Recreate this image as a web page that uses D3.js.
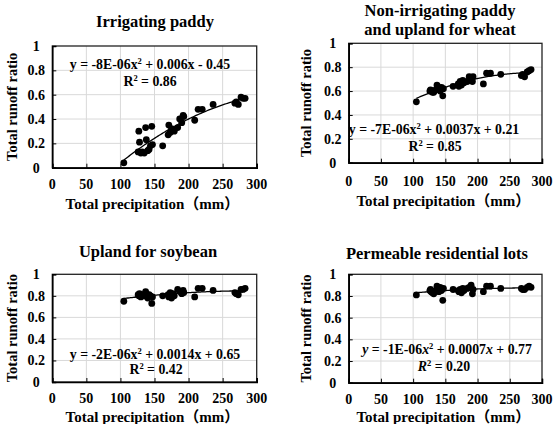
<!DOCTYPE html>
<html>
<head>
<meta charset="utf-8">
<script src="https://cdn.jsdelivr.net/npm/d3@7"></script>
<style>
  body { margin: 0; background: #fff; }
  svg text { font-family: "Liberation Serif", "Times New Roman", "Noto Sans CJK JP", serif; font-weight: bold; fill: #000; }
</style>
</head>
<body>
<svg id="chart" width="555" height="424"></svg>
<script>
// rainfall events (mm), shared by all four land uses
const precip = [105, 126, 127, 128, 130, 132, 135, 137, 138, 140, 142, 144, 146, 147, 162,
  170, 171, 173, 175, 177, 179, 184, 187, 190, 192, 193, 209, 214, 220, 236,
  268, 270, 273, 277, 280, 283];

const irrigPaddy = [0.04, 0.13, 0.30, 0.21, 0.12, 0.13, 0.12, 0.33, 0.23, 0.14, 0.15, 0.18, 0.34, 0.19, 0.18,
  0.27, 0.35, 0.29, 0.32, 0.31, 0.30, 0.33, 0.40, 0.37, 0.43, 0.42, 0.39, 0.48, 0.48, 0.52,
  0.53, 0.54, 0.52, 0.58, 0.57, 0.57];

const wheatUpland = [0.51, 0.60, 0.61, 0.60, 0.59, 0.59, 0.61, 0.65, 0.64, 0.62, 0.60, 0.63, 0.56, 0.62, 0.64,
  0.66, 0.64, 0.68, 0.65, 0.69, 0.67, 0.68, 0.72, 0.71, 0.68, 0.72, 0.66, 0.75, 0.75, 0.74,
  0.73, 0.74, 0.72, 0.76, 0.77, 0.78];

const soyUpland = [0.75, 0.81, 0.80, 0.82, 0.79, 0.81, 0.80, 0.84, 0.82, 0.78, 0.81, 0.80, 0.73, 0.79, 0.80,
  0.81, 0.79, 0.83, 0.78, 0.82, 0.80, 0.86, 0.84, 0.82, 0.85, 0.83, 0.79, 0.87, 0.87, 0.85,
  0.83, 0.82, 0.81, 0.86, 0.86, 0.87];

const residential = [0.81, 0.85, 0.86, 0.84, 0.83, 0.82, 0.85, 0.89, 0.87, 0.84, 0.88, 0.85, 0.76, 0.87, 0.86,
  0.85, 0.84, 0.86, 0.83, 0.87, 0.85, 0.87, 0.88, 0.90, 0.82, 0.86, 0.84, 0.89, 0.89, 0.87,
  0.87, 0.86, 0.86, 0.88, 0.89, 0.88];

const xTicks = [0, 50, 100, 150, 200, 250, 300];
const yTicks = [0, 0.2, 0.4, 0.6, 0.8, 1];

const panels = [
  {title: ["Irrigating paddy"], values: irrigPaddy,
   eq: ["y = -8E-06x", " + 0.006x - 0.45"], r2: "0.86", italic: false,
   x0: 52.3, x1: 256.7, y0: 167.7, y1: 46, titleY: [21], titleX: 155,
   eqY: 64, eqX: 150, r2Y: 81, r2X: 150, tickY: 184, labY: 204, ylabX: 12},
  {title: ["Non-irrigating paddy", "and upland for wheat"], values: wheatUpland,
   eq: ["y = -7E-06x", " + 0.0037x + 0.21"], r2: "0.85", italic: false,
   x0: 348.7, x1: 542, y0: 162.7, y1: 43.3, titleY: [10, 29], titleX: 440,
   eqY: 129, eqX: 434, r2Y: 146, r2X: 435, tickY: 181, labY: 201, ylabX: 306},
  {title: ["Upland for soybean"], values: soyUpland,
   eq: ["y = -2E-06x", " + 0.0014x + 0.65"], r2: "0.42", italic: false,
   x0: 52.3, x1: 256.7, y0: 382, y1: 274.3, titleY: [251], titleX: 148,
   eqY: 354, eqX: 155, r2Y: 369, r2X: 156, tickY: 398, labY: 417, ylabX: 12},
  {title: ["Permeable residential lots"], values: residential,
   eq: ["y = -1E-06x", " + 0.0007x + 0.77"], r2: "0.20", italic: true,
   x0: 348.7, x1: 542, y0: 382.7, y1: 274.3, titleY: [253], titleX: 437,
   eqY: 349, eqX: 447, r2Y: 366, r2X: 444, tickY: 399, labY: 417, ylabX: 306}
];

// quadratic least-squares fit of the points
function quadFit(xs, ys) {
  const n = xs.length;
  let s = [0, 0, 0, 0, 0], t = [0, 0, 0];
  for (let i = 0; i < n; i++) {
    const x = xs[i], y = ys[i];
    for (let k = 0; k < 5; k++) s[k] += Math.pow(x, k);
    for (let k = 0; k < 3; k++) t[k] += y * Math.pow(x, k);
  }
  const A = [[s[0], s[1], s[2], t[0]], [s[1], s[2], s[3], t[1]], [s[2], s[3], s[4], t[2]]];
  for (let c = 0; c < 3; c++) {
    for (let r = c + 1; r < 3; r++) {
      const f = A[r][c] / A[c][c];
      for (let k = c; k < 4; k++) A[r][k] -= f * A[c][k];
    }
  }
  const b = [0, 0, 0];
  for (let r = 2; r >= 0; r--) {
    let v = A[r][3];
    for (let k = r + 1; k < 3; k++) v -= A[r][k] * b[k];
    b[r] = v / A[r][r];
  }
  return x => b[0] + b[1] * x + b[2] * x * x;
}

const svg = d3.select("#chart");

panels.forEach(p => {
  const x = d3.scaleLinear().domain([0, 300]).range([p.x0, p.x1]);
  const y = d3.scaleLinear().domain([0, 1]).range([p.y0, p.y1]);
  const g = svg.append("g");

  // gridlines
  g.selectAll(".vg").data(xTicks.slice(1, -1)).join("line")
    .attr("x1", d => x(d)).attr("x2", d => x(d))
    .attr("y1", p.y0).attr("y2", p.y1)
    .attr("stroke", "#d9d9d9").attr("stroke-width", 1);
  g.selectAll(".hg").data(yTicks.slice(1, -1)).join("line")
    .attr("y1", d => y(d)).attr("y2", d => y(d))
    .attr("x1", p.x0).attr("x2", p.x1)
    .attr("stroke", "#d9d9d9").attr("stroke-width", 1);

  // plot frame
  g.append("rect")
    .attr("x", p.x0).attr("y", p.y1)
    .attr("width", p.x1 - p.x0).attr("height", p.y0 - p.y1)
    .attr("fill", "none").attr("stroke", "#222").attr("stroke-width", 1.3);

  // axes
  const xAxis = g.append("g").attr("transform", `translate(0,${p.y0})`)
    .call(d3.axisBottom(x).tickValues(xTicks).tickSize(-4).tickFormat(""));
  const yAxis = g.append("g").attr("transform", `translate(${p.x0},0)`)
    .call(d3.axisLeft(y).tickValues(yTicks).tickSize(-4).tickFormat(""));
  [xAxis, yAxis].forEach(a => {
    a.select(".domain").attr("stroke", "#000").attr("stroke-width", 1.6);
    a.selectAll(".tick line").attr("stroke", "#000").attr("stroke-width", 1);
  });

  // tick labels
  g.selectAll(".xl").data(xTicks).join("text")
    .attr("x", d => x(d)).attr("y", p.tickY + 5)
    .attr("text-anchor", "middle").attr("font-size", 14)
    .text(d => d);
  g.selectAll(".yl").data(yTicks).join("text")
    .attr("x", p.x0 - 16).attr("y", d => y(d) + 5)
    .attr("text-anchor", "middle").attr("font-size", 14)
    .text(d => d);

  // axis titles
  g.append("text")
    .attr("x", (p.x0 + p.x1) / 2 - 2).attr("y", p.labY + 5)
    .attr("text-anchor", "middle").attr("font-size", 15)
    .text("Total precipitation（mm）");
  g.append("text")
    .attr("transform", `translate(${p.ylabX + 5},${(p.y0 + p.y1) / 2}) rotate(-90)`)
    .attr("text-anchor", "middle").attr("font-size", 14.5)
    .text("Total runoff ratio");

  // panel title
  p.title.forEach((t, i) => {
    g.append("text")
      .attr("x", p.titleX).attr("y", p.titleY[i] + 6)
      .attr("text-anchor", "middle").attr("font-size", 16.5)
      .text(t);
  });

  // points
  const pts = precip.map((d, i) => [d, p.values[i]]);
  g.selectAll(".pt").data(pts).join("circle")
    .attr("cx", d => x(d[0])).attr("cy", d => y(d[1]))
    .attr("r", 3.4).attr("fill", "#000");

  // trendline
  const f = quadFit(precip, p.values);
  const xs = d3.range(d3.min(precip), d3.max(precip) + 0.5, 2);
  g.append("path")
    .attr("d", d3.line().x(d => x(d)).y(d => y(f(d)))(xs))
    .attr("fill", "none").attr("stroke", "#000").attr("stroke-width", 1.3);

  // equation labels
  const it = p.italic ? "italic" : "normal";
  const eq = g.append("text")
    .attr("x", p.eqX).attr("y", p.eqY + 5)
    .attr("text-anchor", "middle").attr("font-size", 13.8);
  eq.append("tspan").text("y").attr("font-style", it);
  eq.append("tspan").text(p.eq[0].slice(1, -1));
  eq.append("tspan").text("x").attr("font-style", it);
  eq.append("tspan").text("2").attr("font-size", 8.5).attr("dy", -5);
  const rest = p.eq[1].split("x");
  eq.append("tspan").text(rest[0]).attr("dy", 5);
  eq.append("tspan").text("x").attr("font-style", it);
  eq.append("tspan").text(rest[1]);

  const r2 = g.append("text")
    .attr("x", p.r2X).attr("y", p.r2Y + 5)
    .attr("text-anchor", "middle").attr("font-size", 13.8);
  r2.append("tspan").text("R").attr("font-style", it);
  r2.append("tspan").text("2").attr("font-size", 8.5).attr("dy", -5);
  r2.append("tspan").text(" = " + p.r2).attr("dy", 5);
});
</script>
</body>
</html>
